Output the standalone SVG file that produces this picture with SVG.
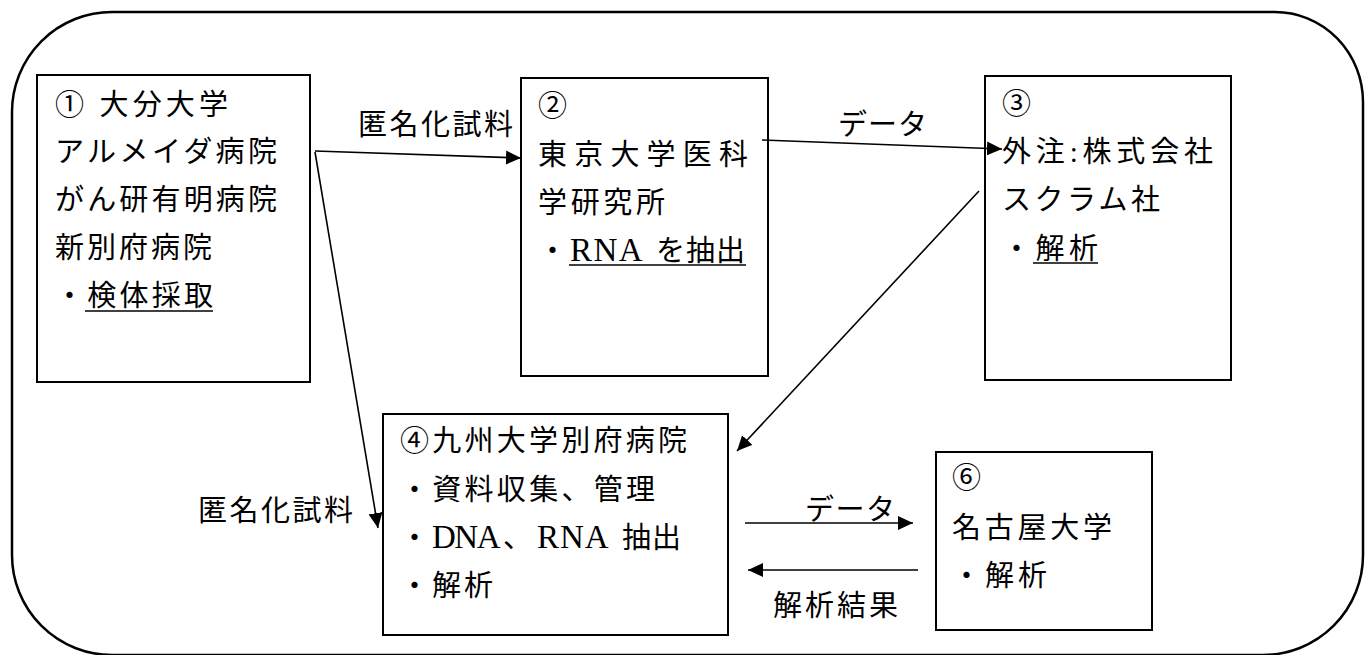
<svg xmlns="http://www.w3.org/2000/svg" width="1365" height="655" viewBox="0 0 1365 655">
<style>
text{font-family:"Liberation Serif","Noto Sans CJK JP",serif;font-size:29px;fill:#000;}
.lat{font-size:33px;}
.box{fill:#fff;stroke:#000;stroke-width:2;}
.frame{fill:none;stroke:#000;stroke-width:2.5;}
.conn{stroke:#000;stroke-width:1.6;fill:none;marker-end:url(#arr);}
.ul{stroke:#000;stroke-width:1.5;}
</style>
<defs>
<marker id="arr" markerUnits="userSpaceOnUse" markerWidth="16" markerHeight="14" refX="15" refY="7" orient="auto" viewBox="0 0 16 14">
<path d="M0,0 L15,7 L0,14 z" fill="#000"/>
</marker>
</defs>
<rect width="1365" height="655" fill="#fff"/>
<path class="frame" d="M112,12 H1275 A88,90 0 0 1 1363,102 V555 A100,100 0 0 1 1263,655 H112 A100,100 0 0 1 12,555 V112 A100,100 0 0 1 112,12 Z"/>

<g id="node1">
<rect class="box" x="37" y="75" width="273" height="307"/>
<text x="55" y="115" textLength="173" lengthAdjust="spacing">① 大分大学</text>
<text x="55" y="162" textLength="222" lengthAdjust="spacing">アルメイダ病院</text>
<text x="55" y="210" textLength="222" lengthAdjust="spacing">がん研有明病院</text>
<text x="55" y="258" textLength="157" lengthAdjust="spacing">新別府病院</text>
<text x="55" y="306" textLength="158" lengthAdjust="spacing">・検体採取</text>
<line class="ul" x1="85" y1="311" x2="213" y2="311"/>
</g>

<g id="node2">
<rect class="box" x="521" y="78" width="247" height="298"/>
<text x="538" y="116">②</text>
<text x="538" y="165" textLength="210" lengthAdjust="spacing">東京大学医科</text>
<text x="538" y="213" textLength="127" lengthAdjust="spacing">学研究所</text>
<text y="261"><tspan x="538">・</tspan><tspan x="570" class="lat" letter-spacing="1.5">RNA </tspan><tspan x="656" letter-spacing="1">を抽出</tspan></text>
<line class="ul" x1="569" y1="265" x2="746" y2="265"/>
</g>

<g id="node3">
<rect class="box" x="985" y="76" width="246" height="304"/>
<text x="1002" y="114">③</text>
<text x="1002" y="162" textLength="211" lengthAdjust="spacing">外注:株式会社</text>
<text x="1002" y="210" textLength="158" lengthAdjust="spacing">スクラム社</text>
<text x="1002" y="259" textLength="96" lengthAdjust="spacing">・解析</text>
<line class="ul" x1="1033" y1="263" x2="1098" y2="263"/>
</g>

<g id="node4">
<rect class="box" x="383" y="414" width="345" height="221"/>
<text x="400" y="451" textLength="287" lengthAdjust="spacing">④九州大学別府病院</text>
<text x="400" y="500" textLength="255" lengthAdjust="spacing">・資料収集、管理</text>
<text y="548"><tspan x="400">・</tspan><tspan x="432" class="lat" letter-spacing="-1.5">DNA</tspan><tspan x="503">、</tspan><tspan x="537" class="lat" letter-spacing="1">RNA </tspan><tspan x="622" letter-spacing="1">抽出</tspan></text>
<text x="400" y="596" textLength="93" lengthAdjust="spacing">・解析</text>
</g>

<g id="node6">
<rect class="box" x="936" y="452" width="216" height="178"/>
<text x="952" y="488">⑥</text>
<text x="952" y="538" textLength="160" lengthAdjust="spacing">名古屋大学</text>
<text x="952" y="586" textLength="95" lengthAdjust="spacing">・解析</text>
</g>

<g id="connectors">
<line class="conn" x1="315" y1="151" x2="521" y2="158"/>
<line class="conn" x1="315" y1="152" x2="378" y2="528"/>
<line class="conn" x1="762" y1="140" x2="1002" y2="149"/>
<line class="conn" x1="979" y1="191" x2="737" y2="451"/>
<line class="conn" x1="745" y1="523" x2="913" y2="523"/>
<line class="conn" x1="918" y1="570" x2="748" y2="570"/>
<text x="358" y="135" textLength="155" lengthAdjust="spacing">匿名化試料</text>
<text x="198" y="521" textLength="155" lengthAdjust="spacing">匿名化試料</text>
<text x="838" y="135" textLength="89" lengthAdjust="spacing">データ</text>
<text x="805" y="520" textLength="90" lengthAdjust="spacing">データ</text>
<text x="773" y="616" textLength="125" lengthAdjust="spacing">解析結果</text>
</g>
</svg>
